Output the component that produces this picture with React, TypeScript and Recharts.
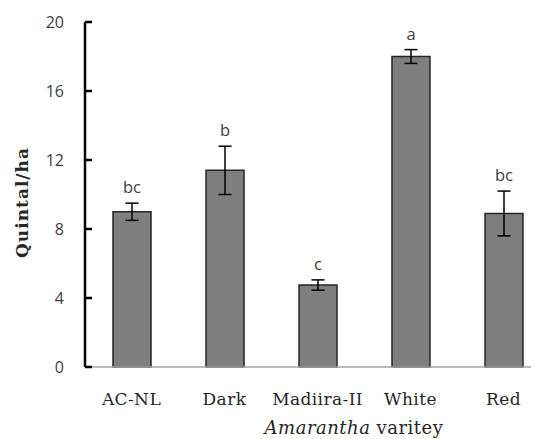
import React from "react";
import {
  BarChart,
  Bar,
  XAxis,
  YAxis,
  ErrorBar,
  LabelList,
  Label,
} from "recharts";

// values
const varieties = ["AC-NL", "Dark", "Madiira-II", "White", "Red"];
const yields = [9.0, 11.4, 4.75, 18.0, 8.9];
const errors = [0.5, 1.4, 0.3, 0.4, 1.3];
const letters = ["bc", "b", "c", "a", "bc"];
const yTicks = [0, 4, 8, 12, 16, 20];

const data = varieties.map((name, i) => ({
  name,
  value: yields[i],
  err: errors[i],
  letter: letters[i],
}));

const serif = "'DejaVu Serif', serif";
const sans = "'Open Sans', 'Noto Sans', sans-serif";

const YTick = (props: any) => {
  const { x, y, payload } = props;
  const axisX = x + 21;
  return (
    <g>
      <line x1={axisX} y1={y} x2={axisX + 7} y2={y} stroke="#000" strokeWidth={2.5} />
      <text x={x} y={y} dy={6} textAnchor="end" fontFamily={sans} fontSize={16} fill="#404040">
        {payload.value}
      </text>
    </g>
  );
};

const XTick = (props: any) => {
  const { x, y, payload } = props;
  return (
    <text x={x} y={y} dy={30} textAnchor="middle" fontFamily={serif} fontSize={17} letterSpacing={0.4} fill="#262626">
      {payload.value}
    </text>
  );
};

const LetterLabel = (props: any) => {
  const { x, y, width, height, index } = props;
  const d = data[index];
  const perUnit = height / d.value;
  const top = y - d.err * perUnit;
  return (
    <text x={x + width / 2} y={top - 10} textAnchor="middle" fontFamily={sans} fontSize={16.5} fill="#404040">
      {d.letter}
    </text>
  );
};

export default function App() {
  return (
    <div style={{ width: 531, height: 431, overflow: "hidden" }}>
      <BarChart
        width={542}
        height={431}
        data={data}
        margin={{ top: 14, right: 0, bottom: 0, left: 0 }}
      >
        <XAxis
          dataKey="name"
          height={72}
          axisLine={{ stroke: "#a6a6a6", strokeWidth: 1.5 }}
          tickLine={false}
          tick={<XTick />}
          interval={0}
        >
          <Label
            content={(p: any) => {
              const vb = p.viewBox;
              return (
                <text x={vb.x + 269} y={vb.y + 67} textAnchor="middle" fontFamily={serif} fontSize={18} letterSpacing={0.5} fill="#262626">
                  <tspan fontStyle="italic">Amarantha</tspan>
                  <tspan> varitey</tspan>
                </text>
              );
            }}
          />
        </XAxis>
        <YAxis
          width={77}
          domain={[0, 20]}
          ticks={yTicks}
          interval={0}
          axisLine={{ stroke: "#000", strokeWidth: 2.5 }}
          tickLine={false}
          tickSize={0}
          tickMargin={21}
          tick={<YTick />}
        >
          <Label
            content={(p: any) => {
              const vb = p.viewBox;
              const cy = vb.y + vb.height / 2 + 8;
              return (
                <text x={14} y={cy} transform={`rotate(-90, 14, ${cy})`} dy={6} textAnchor="middle" fontFamily={serif} fontWeight="bold" fontSize={17} letterSpacing={1} fill="#262626">
                  Quintal/ha
                </text>
              );
            }}
          />
        </YAxis>
        <Bar
          dataKey="value"
          barSize={38}
          fill="#7f7f7f"
          stroke="#262626"
          strokeWidth={1.5}
          isAnimationActive={false}
        >
          <ErrorBar dataKey="err" width={6.5} stroke="#000" strokeWidth={1.5} direction="y" />
          <LabelList dataKey="letter" content={<LetterLabel />} />
        </Bar>
      </BarChart>
    </div>
  );
}
